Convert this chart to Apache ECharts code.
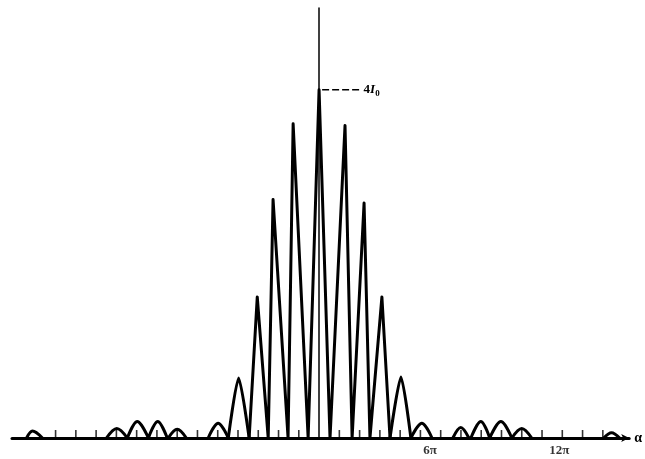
<!DOCTYPE html>
<html><head><meta charset="utf-8">
<script src="https://cdn.jsdelivr.net/npm/echarts@6/dist/echarts.min.js"></script>
<style>html,body{margin:0;padding:0;background:#fff}#c{width:645px;height:459px}</style>
</head><body><div id="c"></div>
<script>
// alpha in units of pi, intensity in units of I0
const spikeX = [-3.45,-3.05,-2.51,-2.27,-1.53,-1.28,-0.54,0,0.54,1.28,1.63,2.22,2.51,3.10,3.50];
const spikeY = [0,1.62,0,2.74,0,3.61,0,4.0,0,3.59,0,2.70,0,1.62,0];

// outer lobes of the central envelope
const lobeFootL = [-4.48, 3.50];
const lobePeakX = [-3.97, 4.04];
const lobeFootR = [-3.45, 4.53];
const lobePeakY = [0.69, 0.70];

// secondary maxima (small bumps)
const bumpFootL = [-14.43,-10.49,-9.46,-8.42,-7.44,-5.47,4.53,6.60,7.49,8.42,9.51,14.04];
const bumpPeakX = [-14.14,-9.98,-8.97,-7.96,-7.00,-4.98,5.07,6.99,7.98,8.97,10.00,14.43];
const bumpFootR = [-13.65,-9.46,-8.42,-7.49,-6.55,-4.48,5.57,7.39,8.42,9.51,10.49,14.83];
const bumpPeakY = [0.08,0.11,0.19,0.19,0.10,0.17,0.17,0.12,0.19,0.19,0.11,0.06];

const tickPos = [-13,-12,-11,-10,-9,-8,-7,-6,-5,-4,-3,-2,-1,1,2,3,4,5,6,7,8,9,10,11,12,13,14];
const tickLabelText = ['6π','12π'];
const tickLabelPos = [5.47, 11.85];

const refLineX = [0.15, 2.0];
const refLevel = 4;

const spikeData = spikeX.map((x,i)=>[x, spikeY[i]]);
function humps(fl, px, fr, py){
  const d = [];
  px.forEach((x,i)=>{ d.push([fl[i],0],[x,py[i]],[fr[i],0],[null,null]); });
  return d;
}
const lobeData = humps(lobeFootL, lobePeakX, lobeFootR, lobePeakY);
const bumpData = humps(bumpFootL, bumpPeakX, bumpFootR, bumpPeakY);

const chart = echarts.init(document.getElementById('c'), null, {renderer:'canvas'});
chart.setOption({
  animation:false,
  backgroundColor:'#fff',
  grid:{left:12,right:15,top:8,bottom:21},
  xAxis:{type:'value',min:-15.15,max:15.3,
    axisLine:{show:true,onZero:false,symbol:['none','arrow'],symbolSize:[6,8],lineStyle:{color:'#000',width:3}},
    axisTick:{show:false},axisLabel:{show:false},splitLine:{show:false},
    name:'α',nameLocation:'end',nameGap:5,
    nameTextStyle:{color:'#000',fontSize:14,fontWeight:'bold',fontFamily:'Liberation Serif'}},
  yAxis:{type:'value',min:0,max:4.94,
    axisLine:{show:true,onZero:true,lineStyle:{color:'#000',width:1.5}},
    axisTick:{show:false},axisLabel:{show:false},splitLine:{show:false}},
  series:[
    {type:'scatter',data:tickPos.map(x=>[x,0]),symbol:'rect',symbolSize:[1.6,8],symbolOffset:[0,-4],
      itemStyle:{color:'#000'},z:3,silent:true},
    {type:'line',data:spikeData,showSymbol:false,smooth:false,
      lineStyle:{color:'#000',width:3,join:'round',cap:'round'},z:4},
    {type:'line',data:lobeData,showSymbol:false,smooth:0.22,connectNulls:false,
      lineStyle:{color:'#000',width:3,join:'round',cap:'round'},z:4},
    {type:'line',data:bumpData,showSymbol:false,smooth:0.35,connectNulls:false,
      lineStyle:{color:'#000',width:3,join:'round',cap:'round'},z:4},
    {type:'line',data:refLineX.map(x=>[x,refLevel]),showSymbol:false,
      lineStyle:{color:'#000',width:1.5,type:[7,3]},
      endLabel:{show:true,distance:4,formatter:'{a|4}{b|I}{c|0}',
        rich:{a:{fontSize:13,fontWeight:'bold',fontFamily:'Liberation Serif',color:'#000'},
              b:{fontSize:13,fontWeight:'bold',fontFamily:'Liberation Serif',fontStyle:'italic',color:'#000'},
              c:{fontSize:9,fontWeight:'bold',fontFamily:'Liberation Serif',color:'#000',padding:[8,0,0,0]}}}},
    {type:'scatter',data:tickLabelPos.map((x,i)=>({value:[x,0],name:tickLabelText[i]})),symbolSize:0,
      label:{show:true,position:'bottom',distance:6,formatter:'{b}',color:'#000',fontSize:13,
        fontWeight:'bold',fontFamily:'Liberation Serif'},silent:true}
  ]
});
</script></body></html>
